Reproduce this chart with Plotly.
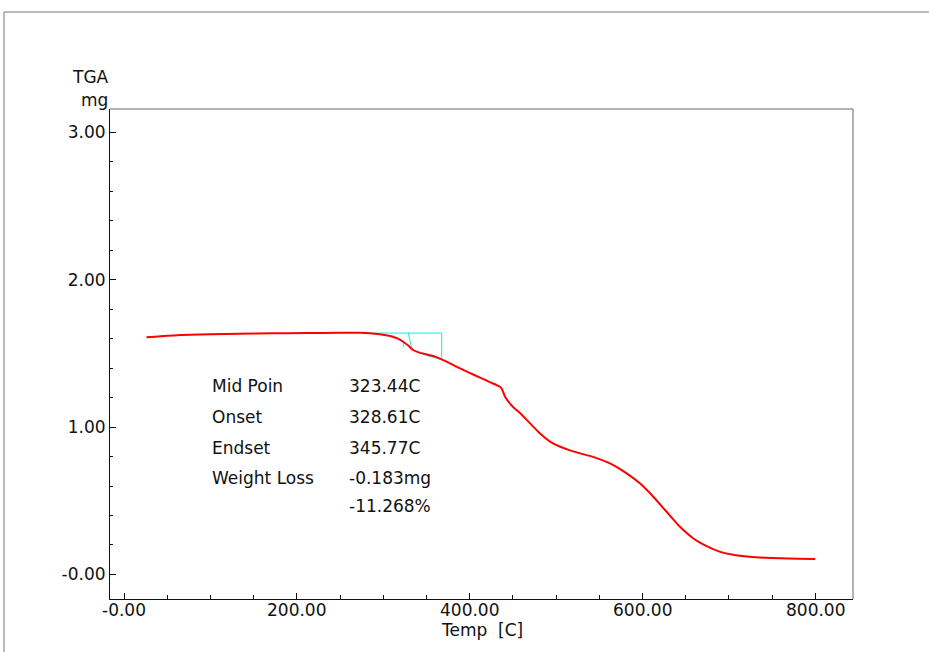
import plotly.graph_objects as go

# TGA curve (Temp [C] vs mass [mg])
temp = [26, 40, 65, 100, 134, 170, 211, 250, 273, 285, 296, 305, 311, 317, 323, 329,
        334.5, 342, 350.7, 360, 367.7, 378, 389, 400, 412, 424, 435, 437, 441, 450,
        454.5, 458, 470, 481.5, 497, 516, 530, 543, 562.5, 581.8, 597, 612.6, 628,
        643.5, 659, 674.4, 690, 705, 724, 742, 759, 780, 800]
mass = [1.609, 1.615, 1.625, 1.630, 1.633, 1.636, 1.638, 1.640, 1.640, 1.637, 1.630,
        1.622, 1.613, 1.600, 1.579, 1.553, 1.523, 1.505, 1.493, 1.478, 1.460, 1.430,
        1.398, 1.368, 1.336, 1.304, 1.274, 1.263, 1.206, 1.138, 1.115, 1.097, 1.025,
        0.957, 0.887, 0.842, 0.818, 0.798, 0.753, 0.686, 0.618, 0.527, 0.425, 0.323,
        0.244, 0.192, 0.153, 0.133, 0.120, 0.113, 0.109, 0.106, 0.104]

# Onset / endset construction lines
constr_x = [275, 367.7, 367.7, None, 329, 333, 342.6, 365.7, None, 323.3, 323.3]
constr_y = [1.638, 1.638, 1.460, None, 1.638, 1.534, 1.500, 1.460, None, 1.591, 1.545]

x_tickvals = [0, 200, 400, 600, 800]
x_ticktext = ["-0.00", "200.00", "400.00", "600.00", "800.00"]
y_tickvals = [0, 1, 2, 3]
y_ticktext = ["-0.00", "1.00", "2.00", "3.00"]

labels = ["Mid Poin", "Onset", "Endset", "Weight Loss", ""]
values = ["323.44C", "328.61C", "345.77C", "-0.183mg", "-11.268%"]
label_y = [1.278, 1.068, 0.858, 0.654, 0.464]

FONT = "DejaVu Sans, sans-serif"
TXT = "#111"

fig = go.Figure()
fig.add_trace(go.Scatter(x=constr_x, y=constr_y, mode="lines",
                         line=dict(color="#10ecec", width=1), hoverinfo="skip",
                         showlegend=False))
fig.add_trace(go.Scatter(x=temp, y=mass, mode="lines",
                         line=dict(color="#ff0000", width=2, shape="spline", smoothing=0.5),
                         showlegend=False))

for lab, val, yy in zip(labels, values, label_y):
    if lab:
        fig.add_annotation(x=100.0, y=yy, xref="x", yref="y", text=lab, showarrow=False,
                           xanchor="left", yanchor="middle",
                           font=dict(family=FONT, size=17, color=TXT))
    fig.add_annotation(x=258.0, y=yy, xref="x", yref="y", text=val, showarrow=False,
                       xanchor="left", yanchor="middle",
                       font=dict(family=FONT, size=17, color=TXT))

# x tick labels (placed just under the axis)
for xv, xt in zip(x_tickvals, x_ticktext):
    fig.add_annotation(x=xv, y=-0.0225, xref="x", yref="paper", text=xt, showarrow=False,
                       xanchor="center", yanchor="middle",
                       font=dict(family=FONT, size=17, color=TXT))

# axis titles
fig.add_annotation(x=-0.0269, y=1.066, xref="paper", yref="paper", text="TGA",
                   showarrow=False, xanchor="center", yanchor="middle",
                   font=dict(family=FONT, size=17, color=TXT))
fig.add_annotation(x=-0.0205, y=1.019, xref="paper", yref="paper", text="mg",
                   showarrow=False, xanchor="center", yanchor="middle",
                   font=dict(family=FONT, size=17, color=TXT))
fig.add_annotation(x=(438.7 - 110) / 743, y=(599 - 630) / 490, xref="paper", yref="paper",
                   text="Temp\u00a0 [C]", showarrow=False, xanchor="left", yanchor="middle",
                   font=dict(family=FONT, size=17, color=TXT))

# plot-area top/right edges (gray) and outer frame
fig.add_shape(type="line", xref="paper", yref="paper", x0=0, x1=1, y0=1, y1=1,
              line=dict(color="#666", width=1))
fig.add_shape(type="line", xref="paper", yref="paper", x0=1, x1=1, y0=0, y1=1,
              line=dict(color="#666", width=1))
fx = (4 - 110) / 743
fy = (599 - 12) / 490
fig.add_shape(type="line", xref="paper", yref="paper", x0=fx, x1=1.5, y0=fy, y1=fy,
              line=dict(color="#777", width=1))
fig.add_shape(type="line", xref="paper", yref="paper", x0=fx, x1=fx, y0=fy, y1=-0.3,
              line=dict(color="#777", width=1))

fig.update_layout(
    width=929, height=652,
    margin=dict(l=110, r=76, t=109, b=53),
    paper_bgcolor="white", plot_bgcolor="white",
    font=dict(family=FONT, size=17, color=TXT),
    xaxis=dict(range=[-16.2, 843.7], tickmode="array", tickvals=x_tickvals,
               showticklabels=False, ticks="inside", ticklen=6, tickwidth=1,
               tickcolor="#111", showline=True, linecolor="#111", linewidth=1,
               showgrid=False, zeroline=False,
               minor=dict(dtick=50, tick0=0, ticks="inside", ticklen=4,
                          tickcolor="#111", showgrid=False)),
    yaxis=dict(range=[-0.167, 3.159], tickmode="array", tickvals=y_tickvals,
               ticktext=y_ticktext, ticks="inside", ticklen=6, tickwidth=1,
               tickcolor="#111", showline=True, linecolor="#111", linewidth=1,
               showgrid=False, zeroline=False,
               tickfont=dict(family=FONT, size=17, color=TXT),
               minor=dict(dtick=0.2, tick0=0, ticks="inside", ticklen=3,
                          tickcolor="#111", showgrid=False)),
)

fig.write_html("out.html")
